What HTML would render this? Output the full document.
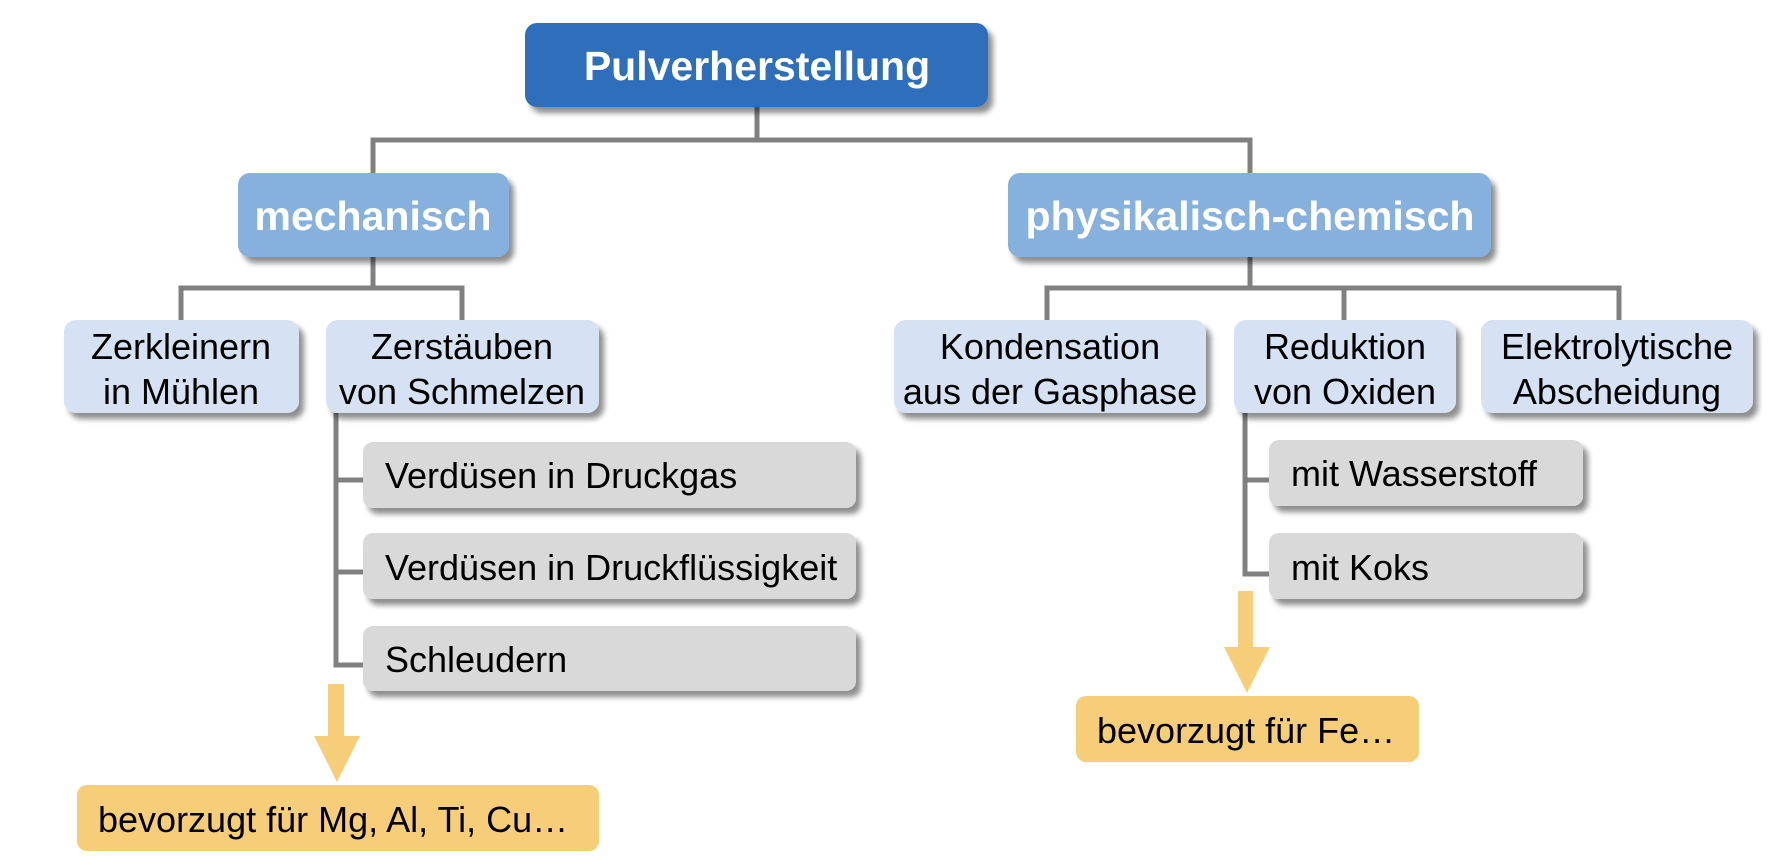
<!DOCTYPE html>
<html><head><meta charset="utf-8"><style>
html,body{margin:0;padding:0;background:#fff;}
svg{display:block;}
text{font-family:"Liberation Sans",Arial,sans-serif;}
</style></head><body>
<svg width="1788" height="868" viewBox="0 0 1788 868" xmlns="http://www.w3.org/2000/svg">
<defs>
<filter id="sh" x="-10%" y="-20%" width="130%" height="160%">
<feGaussianBlur in="SourceAlpha" stdDeviation="3"/>
<feOffset dx="5" dy="6" result="b"/>
<feComponentTransfer><feFuncA type="linear" slope="0.45"/></feComponentTransfer>
<feMerge><feMergeNode/><feMergeNode in="SourceGraphic"/></feMerge>
</filter>
</defs>
<g stroke="#808080" stroke-width="5" fill="none">
<path d="M757 107 V140 M373 173 V140 H1250 V173"/>
<path d="M373 257 V288 M181 320 V288 H462 V320"/>
<path d="M1250 257 V288 M1047 320 V288 H1619 V320 M1344 288 V320"/>
<path d="M336 413 V665 H363 M336 480 H363 M336 572 H363"/>
<path d="M1245 413 V574 H1269 M1245 480 H1269"/>
</g>
<g filter="url(#sh)">
<rect x="525" y="23" width="463" height="84" rx="12" fill="#2f6ebb"/>
<rect x="238" y="173" width="271" height="84" rx="12" fill="#86b0dd"/>
<rect x="1008" y="173" width="483" height="84" rx="12" fill="#86b0dd"/>
<rect x="64" y="320" width="235" height="93" rx="12" fill="#d6e2f3"/>
<rect x="326" y="320" width="273" height="93" rx="12" fill="#d6e2f3"/>
<rect x="894" y="320" width="312" height="93" rx="12" fill="#d6e2f3"/>
<rect x="1234" y="320" width="222" height="93" rx="12" fill="#d6e2f3"/>
<rect x="1481" y="320" width="272" height="93" rx="12" fill="#d6e2f3"/>
<rect x="363" y="442" width="493" height="66" rx="10" fill="#d9d9d9"/>
<rect x="363" y="533" width="493" height="66" rx="10" fill="#d9d9d9"/>
<rect x="363" y="626" width="493" height="65" rx="10" fill="#d9d9d9"/>
<rect x="1269" y="440" width="314" height="66" rx="10" fill="#d9d9d9"/>
<rect x="1269" y="533" width="314" height="66" rx="10" fill="#d9d9d9"/>
</g>
<rect x="77" y="785" width="522" height="66" rx="10" fill="#f6cd78"/>
<rect x="1076" y="696" width="343" height="66" rx="10" fill="#f6cd78"/>
<g fill="#f6cd78">
<rect x="328" y="684" width="16" height="54"/>
<polygon points="314,736 360,736 337,782"/>
<rect x="1238" y="591" width="15" height="58"/>
<polygon points="1224,647 1270,647 1247,693"/>
</g>
<g font-weight="bold" fill="#fff" font-size="41" text-anchor="middle">
<text x="757" y="80">Pulverherstellung</text>
<text x="373" y="230">mechanisch</text>
<text x="1250" y="230">physikalisch-chemisch</text>
</g>
<g fill="#000" font-size="36" text-anchor="middle">
<text x="181" y="359">Zerkleinern</text><text x="181" y="404">in Mühlen</text>
<text x="462" y="359">Zerstäuben</text><text x="462" y="404">von Schmelzen</text>
<text x="1050" y="359">Kondensation</text><text x="1050" y="404">aus der Gasphase</text>
<text x="1345" y="359">Reduktion</text><text x="1345" y="404">von Oxiden</text>
<text x="1617" y="359">Elektrolytische</text><text x="1617" y="404">Abscheidung</text>
</g>
<g fill="#000" font-size="36">
<text x="385" y="488">Verdüsen in Druckgas</text>
<text x="385" y="580">Verdüsen in Druckflüssigkeit</text>
<text x="385" y="672">Schleudern</text>
<text x="1291" y="486">mit Wasserstoff</text>
<text x="1291" y="580">mit Koks</text>
<text x="98" y="832">bevorzugt für Mg, Al, Ti, Cu…</text>
<text x="1097" y="743">bevorzugt für Fe…</text>
</g>
</svg>
</body></html>
